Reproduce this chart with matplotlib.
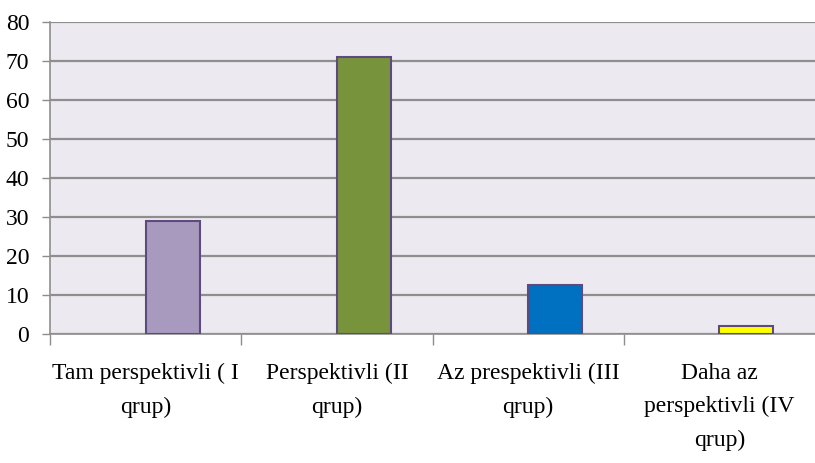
import numpy as np
import matplotlib
matplotlib.use('Agg')
import matplotlib.pyplot as plt

# group shares, %
categories = ['Tam perspektivli ( I\nqrup)',
              'Perspektivli (II\nqrup)',
              'Az prespektivli (III\nqrup)',
              'Daha az\nperspektivli (IV\nqrup)']
values = [29, 71, 12.6, 2]
colors = ['#A899BF', '#77933C', '#0070C0', '#FFFF00']
edge = '#5F4A7D'
grid_c = '#8E8E8E'

plt.rcParams['font.family'] = ['Liberation Serif', 'DejaVu Serif']

fig = plt.figure(figsize=(8.15, 4.63), dpi=100)
ax = fig.add_axes([50 / 815, 129 / 463, 765 / 815, 312 / 463])
ax.set_facecolor('#ECEAF0')

x = np.arange(len(values))
# bars sit right of each category centre (second slot of a two-slot group)
ax.bar(x, values, width=0.283, align='edge', color=colors,
       edgecolor=edge, linewidth=1.5, zorder=3)

ax.set_xlim(-0.5, 3.5)
ax.set_ylim(0, 80)
ax.set_yticks(range(0, 81, 10))
ax.yaxis.grid(True, color=grid_c, linewidth=1.6, zorder=0)
ax.set_axisbelow(True)

# category boundaries get tick marks, centres get labels
ax.set_xticks(np.arange(-0.5, 3.0, 1.0))
ax.set_xticklabels([])
ax.set_xticks(x, minor=True)
ax.set_xticklabels(categories, minor=True, fontsize=17, linespacing=1.75)
ax.tick_params(axis='x', which='major', length=8, width=1, color=grid_c)
ax.tick_params(axis='x', which='minor', length=0, pad=21)
ax.tick_params(axis='y', length=6, width=1, color=grid_c, labelsize=17, pad=9)

for s in ['top', 'right']:
    ax.spines[s].set_visible(False)
for s in ['left', 'bottom']:
    ax.spines[s].set_color(grid_c)
    ax.spines[s].set_linewidth(1.2)

fig.savefig('out.png', dpi=100, facecolor='white')
